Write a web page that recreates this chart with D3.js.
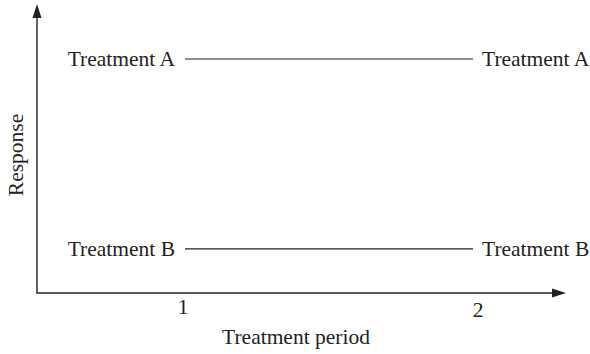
<!DOCTYPE html>
<html><head><meta charset="utf-8">
<script src="https://cdn.jsdelivr.net/npm/d3@7"></script>
<style>body{margin:0;background:#fff}svg{display:block}text{font-family:"Liberation Serif","Times New Roman",serif;fill:#222}</style>
</head><body>
<svg id="c" width="590" height="354"></svg>
<script>
const periods = [1, 2];
const periodLabels = ["1", "2"];
const treatments = ["Treatment A", "Treatment B"];
const responseA = [0.8125, 0.8125];
const responseB = [0.153, 0.153];
const xAxisTitle = "Treatment period";
const yAxisTitle = "Response";

const svg = d3.select("#c");
const fs = 21.5;
const x0 = 37, y0 = 293;
const x = d3.scaleLinear().domain([1, 2]).range([185, 473]);
const y = d3.scaleLinear().domain([0, 1]).range([y0, 5]);

// axes
svg.append("line").attr("x1", x0).attr("x2", x0).attr("y1", y0).attr("y2", 14).attr("stroke", "#222").attr("stroke-width", 1.4);
svg.append("path").attr("d", `M${x0},4 L${x0-4.5},18 L${x0+4.5},18 Z`).attr("fill", "#222");
svg.append("line").attr("x1", x0 - 0.7).attr("x2", 556).attr("y1", y0).attr("y2", y0).attr("stroke", "#222").attr("stroke-width", 1.4);
svg.append("path").attr("d", `M566,${y0} L552,${y0-4.5} L552,${y0+4.5} Z`).attr("fill", "#222");

// series
const series = [responseA, responseB];
const line = d3.line().x((d, i) => x(periods[i])).y(d => y(d));
series.forEach((vals, k) => {
  svg.append("path").attr("d", line(vals)).attr("stroke", "#222").attr("stroke-width", 1.2).attr("fill", "none");
  svg.append("text").attr("x", x(periods[0]) - 10).attr("y", y(vals[0]) + 7).attr("text-anchor", "end").attr("font-size", fs).text(treatments[k]);
  svg.append("text").attr("x", x(periods[1]) + 9).attr("y", y(vals[1]) + 7).attr("text-anchor", "start").attr("font-size", fs).text(treatments[k]);
});

// tick labels
const tickDy = [21, 24];
periods.forEach((p, i) => {
  svg.append("text").attr("x", x(p) + (i === 0 ? -2 : 5)).attr("y", y0 + tickDy[i]).attr("text-anchor", "middle").attr("font-size", fs).text(periodLabels[i]);
});

svg.append("text").attr("x", 296).attr("y", 344).attr("text-anchor", "middle").attr("font-size", fs).text(xAxisTitle);
svg.append("text").attr("transform", "translate(23,155) rotate(-90)").attr("text-anchor", "middle").attr("font-size", fs).text(yAxisTitle);
</script>
</body></html>
